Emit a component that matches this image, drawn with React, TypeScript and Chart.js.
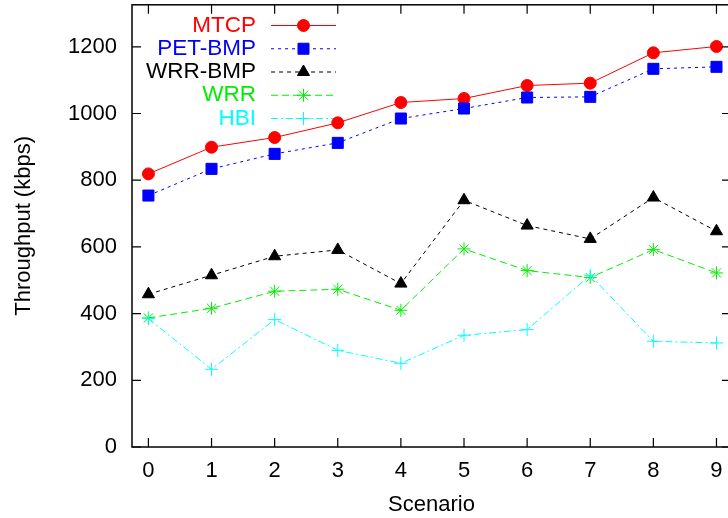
import React, { useEffect, useRef } from 'react';
import { Chart, registerables } from 'chart.js';
import { drawPoint } from 'chart.js/helpers';

Chart.register(...registerables);

const FONT = '"Liberation Sans", Arial, Helvetica, sans-serif';
const SHIFT = 4;

const scenarios = [0, 1, 2, 3, 4, 5, 6, 7, 8, 9];
const yTicks = [0, 200, 400, 600, 800, 1000, 1200];

const mtcp = [819, 899, 928, 972, 1033, 1045, 1084, 1091, 1182, 1201];
const petBmp = [754, 834, 879, 912, 985, 1015, 1048, 1050, 1134, 1140];
const wrrBmp = [458, 515, 572, 591, 490, 740, 664, 624, 748, 647];
const wrr = [387, 416, 467, 473, 410, 594, 529, 508, 592, 522];
const hbi = [385, 233, 382, 290, 251, 335, 352, 515, 317, 312];

const seriesNames = ['MTCP', 'PET-BMP', 'WRR-BMP', 'WRR', 'HBI'];
const seriesValues = [mtcp, petBmp, wrrBmp, wrr, hbi];
const seriesColors = ['#ff0000', '#0000ff', '#000000', '#00ee00', '#00ffff'];
const seriesDash = [[], [3, 4], [4, 4], [7, 4], [7, 3, 2, 3]];
const seriesPoint = ['circle', 'rect', 'triangle', 'star', 'cross'];
const seriesRadius = [6, 7.8, 7, 6.5, 6.5];

const framePlugin = {
  id: 'gpFrame',
  afterDatasetsDraw(chart: any) {
    const { ctx, chartArea: a, scales } = chart;
    const x = scales.x;
    const y = scales.y;
    ctx.save();
    ctx.strokeStyle = '#000';
    ctx.lineWidth = 1.5;
    ctx.setLineDash([]);
    ctx.strokeRect(a.left, a.top, a.right - a.left, a.bottom - a.top);
    ctx.lineWidth = 1.2;
    ctx.beginPath();
    for (const t of scenarios) {
      const px = x.getPixelForValue(t);
      ctx.moveTo(px, a.bottom);
      ctx.lineTo(px, a.bottom - 9);
      ctx.moveTo(px, a.top);
      ctx.lineTo(px, a.top + 9);
    }
    for (const t of yTicks) {
      const py = y.getPixelForValue(t);
      ctx.moveTo(a.left, py);
      ctx.lineTo(a.left + 9, py);
      ctx.moveTo(a.right, py);
      ctx.lineTo(a.right - 9, py);
    }
    ctx.stroke();
    ctx.restore();
  },
};

const legendPlugin = {
  id: 'gpLegend',
  beforeDatasetsDraw(chart: any) {
    const ctx = chart.ctx;
    chart.data.datasets.forEach((ds: any, i: number) => {
      const yy = SHIFT + 25.5 + i * 23.25;
      ctx.save();
      ctx.font = '22.5px ' + FONT;
      ctx.textAlign = 'right';
      ctx.textBaseline = 'middle';
      ctx.fillStyle = ds.borderColor;
      ctx.fillText(ds.label, 256, yy);
      ctx.strokeStyle = ds.borderColor;
      ctx.lineWidth = 1;
      ctx.setLineDash(ds.borderDash || []);
      ctx.beginPath();
      ctx.moveTo(271, yy);
      ctx.lineTo(336, yy);
      ctx.stroke();
      ctx.setLineDash([]);
      ctx.fillStyle = ds.borderColor;
      ctx.strokeStyle = ds.borderColor;
      ctx.lineWidth = 1;
      drawPoint(ctx, { pointStyle: ds.pointStyle, radius: ds.pointRadius, borderWidth: 1, rotation: 0 } as any, 303.5, yy);
      ctx.restore();
    });
  },
};

export default function App() {
  const ref = useRef<HTMLCanvasElement | null>(null);

  useEffect(() => {
    if (!ref.current) return;
    Chart.defaults.font.family = FONT;
    const datasets = seriesNames.map((name, i) => ({
      label: name,
      data: scenarios.map((s, j) => ({ x: s, y: seriesValues[i][j] })),
      borderColor: seriesColors[i],
      backgroundColor: seriesColors[i],
      pointBackgroundColor: seriesColors[i],
      pointBorderColor: seriesColors[i],
      borderWidth: 1,
      borderDash: seriesDash[i],
      pointStyle: seriesPoint[i],
      pointRadius: seriesRadius[i],
      pointBorderWidth: 1,
      pointHoverRadius: seriesRadius[i],
      tension: 0,
      fill: false,
      order: seriesNames.length - i,
    }));
    const tickFont = { family: FONT, size: 22 };
    const chart = new Chart(ref.current, {
      type: 'line',
      data: { datasets },
      options: {
        responsive: false,
        devicePixelRatio: 1,
        animation: false,
        layout: { padding: { left: 0, top: 0, right: 9, bottom: 0 } },
        plugins: { legend: { display: false }, tooltip: { enabled: false } },
        scales: {
          x: {
            type: 'linear',
            min: -0.26,
            max: 9.23,
            ticks: {
              stepSize: 1,
              includeBounds: false,
              padding: 11,
              font: tickFont,
              color: '#000',
              maxRotation: 0,
              autoSkip: false,
              callback: (v: any) => String(v),
            },
            grid: { display: false, drawTicks: false },
            border: { display: false },
            title: {
              display: true,
              text: 'Scenario',
              font: tickFont,
              color: '#000',
              padding: { top: 0, bottom: 0 },
            },
            afterFit(s: any) {
              s.height = 71;
              s.paddingLeft = 0;
              s.paddingRight = 0;
            },
          },
          y: {
            type: 'linear',
            min: 0,
            max: 1326,
            ticks: {
              stepSize: 200,
              includeBounds: false,
              padding: 15,
              font: tickFont,
              color: '#000',
              callback: (v: any) => String(v),
            },
            grid: { display: false, drawTicks: false },
            border: { display: false },
            title: {
              display: true,
              text: 'Throughput (kbps)',
              font: tickFont,
              color: '#000',
              padding: { top: 11, bottom: 0 },
            },
            afterFit(s: any) {
              s.width = 132;
              s.paddingTop = 0;
              s.paddingBottom = 0;
            },
          },
        },
      } as any,
      plugins: [legendPlugin, framePlugin],
    });
    return () => chart.destroy();
  }, []);

  return (
    <div style={{ position: 'fixed', left: 0, top: 0, width: 728, height: 518, overflow: 'hidden', background: '#fff' }}>
      <canvas
        ref={ref}
        width={740}
        height={518 + SHIFT}
        style={{ display: 'block', position: 'absolute', left: 0, top: -SHIFT, width: 740, height: 518 + SHIFT }}
      />
    </div>
  );
}
